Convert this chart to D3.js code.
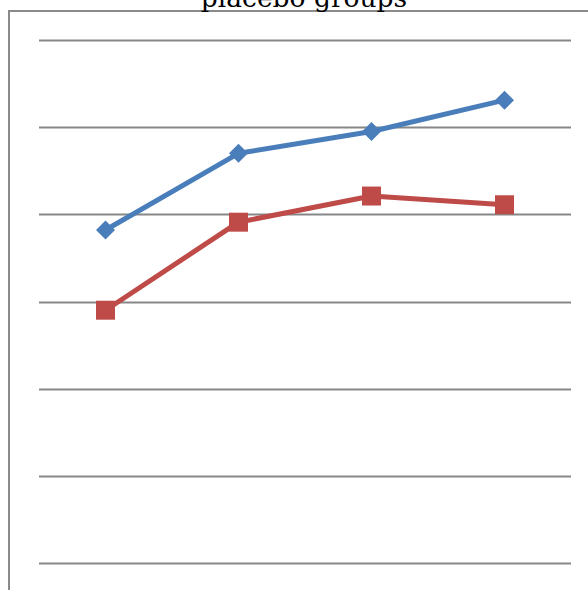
<!DOCTYPE html>
<html>
<head>
<meta charset="utf-8">
<script src="https://cdn.jsdelivr.net/npm/d3@7"></script>
<style>
  html, body { margin: 0; padding: 0; background: #fff; }
  svg { display: block; }
</style>
</head>
<body>
<svg id="chart" width="588" height="590"></svg>
<script>
  // Data (axis labels are cropped out, so units are guesswork)
  const categories = ["T1", "T2", "T3", "T4"];
  const treatedValues = [38.2, 47.0, 49.5, 53.1];
  const placeboValues = [29.0, 39.1, 42.1, 41.1];
  const yTicks = [0, 10, 20, 30, 40, 50, 60];
  const titleText = "placebo groups";

  const W = 588, H = 590;
  const plotLeft = 39, plotRight = 571;
  const yBottom = 563, yTop = 40;

  const svg = d3.select("#chart");

  const x = d3.scaleBand().domain(categories).range([plotLeft, plotRight]);
  const y = d3.scaleLinear().domain([0, 60]).range([yBottom, yTop]);

  // Frame of the plot area (left and top edges only; the rest is cropped)
  svg.append("path")
    .attr("d", `M9,${H} L9,11 L${W},11`)
    .attr("fill", "none")
    .attr("stroke", "#8a8a8a")
    .attr("stroke-width", 2);

  // horizontal gridlines
  svg.append("g")
    .attr("class", "grid")
    .selectAll("line")
    .data(yTicks)
    .join("line")
    .attr("x1", plotLeft)
    .attr("x2", plotRight)
    .attr("y1", (d) => Math.round(y(d)) + 0.5)
    .attr("y2", (d) => Math.round(y(d)) + 0.5)
    .attr("stroke", "#878787")
    .attr("stroke-width", 2);

  // title, mostly cut off by the top edge (as in the source image)
  svg.append("text")
    .attr("x", 304)
    .attr("y", 7)
    .attr("text-anchor", "middle")
    .style("font-family", "'DejaVu Serif', 'Liberation Serif', serif")
    .style("font-size", "26.5px")
    .attr("fill", "#000")
    .text(titleText);

  const cx = (i) => x(categories[i]) + x.bandwidth() / 2;
  const line = d3.line().x((d, i) => cx(i)).y((d) => y(d));

  const series = [
    { values: treatedValues, color: "#4A7EBB", shape: "diamond" },
    { values: placeboValues, color: "#BE4B48", shape: "square" },
  ];

  series.forEach((s) => {
    svg.append("path")
      .datum(s.values)
      .attr("d", line)
      .attr("fill", "none")
      .attr("stroke", s.color)
      .attr("stroke-width", 5)
      .attr("stroke-linejoin", "round");

    const sym = d3.symbol().type(d3.symbolSquare).size(s.shape === "diamond" ? 180 : 360);
    svg.append("g")
      .selectAll("path")
      .data(s.values)
      .join("path")
      .attr("d", sym)
      .attr("transform", (d, i) => `translate(${cx(i)},${y(d)})` + (s.shape === "diamond" ? " rotate(45)" : ""))
      .attr("fill", s.color);
  });
</script>
</body>
</html>
